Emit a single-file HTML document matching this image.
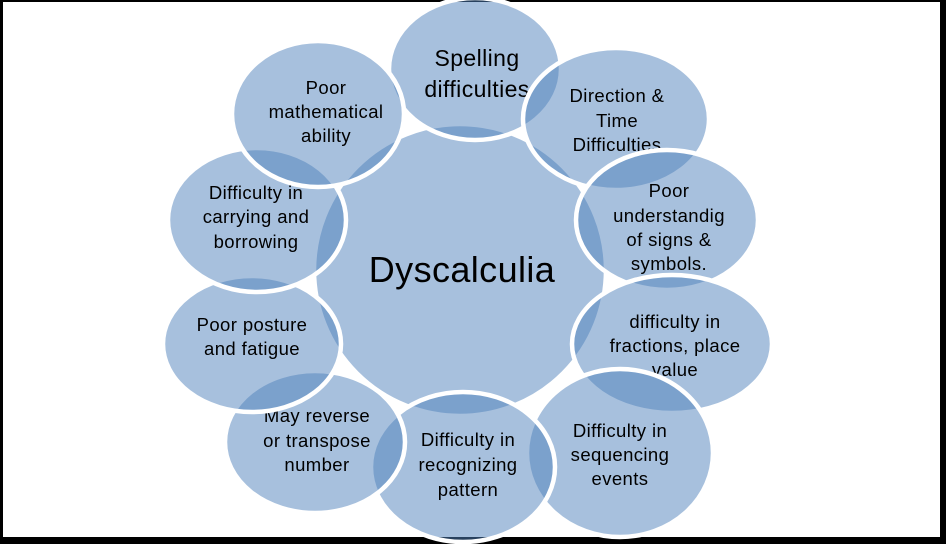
<!DOCTYPE html>
<html><head><meta charset="utf-8"><style>
html,body{margin:0;padding:0;background:#fff}
svg{display:block}
text{font-family:"Liberation Sans",sans-serif;fill:#000;fill-opacity:1;stroke:none;text-anchor:middle;letter-spacing:0.4px}
</style></head><body>
<svg width="946" height="544" viewBox="0 0 946 544" xmlns="http://www.w3.org/2000/svg">
<rect x="0" y="0" width="946" height="544" fill="#000"/>
<rect x="3" y="2" width="937" height="535" fill="#fff"/>
<g stroke="#fff" stroke-width="4.5" fill="rgb(79,129,188)" fill-opacity="0.5" font-size="18.5">
<circle cx="460" cy="270" r="146"/>
<text x="462" y="282" font-size="36">Dyscalculia</text>

<ellipse cx="475" cy="69" rx="86" ry="71"/>
<text x="477" y="66" font-size="23">Spelling</text>
<text x="477" y="97" font-size="23">difficulties</text>

<ellipse cx="616" cy="119" rx="93" ry="71"/>
<text x="617" y="102">Direction &amp;</text>
<text x="617" y="127">Time</text>
<text x="617" y="151">Difficulties</text>

<ellipse cx="667" cy="220" rx="91" ry="70"/>
<text x="669" y="197">Poor</text>
<text x="669" y="222">understandig</text>
<text x="669" y="246">of signs &amp;</text>
<text x="669" y="270">symbols.</text>

<ellipse cx="672" cy="344" rx="100" ry="69"/>
<text x="675" y="328">difficulty in</text>
<text x="675" y="352">fractions, place</text>
<text x="675" y="376">value</text>

<ellipse cx="620" cy="453" rx="93" ry="84"/>
<text x="620" y="437">Difficulty in</text>
<text x="620" y="461">sequencing</text>
<text x="620" y="485">events</text>

<ellipse cx="463" cy="467" rx="92" ry="75"/>
<text x="468" y="446">Difficulty in</text>
<text x="468" y="471">recognizing</text>
<text x="468" y="496">pattern</text>

<ellipse cx="315" cy="442" rx="90" ry="71"/>
<text x="317" y="422">May reverse</text>
<text x="317" y="447">or transpose</text>
<text x="317" y="471">number</text>

<ellipse cx="252" cy="344" rx="89" ry="68"/>
<text x="252" y="331">Poor posture</text>
<text x="252" y="355">and fatigue</text>

<ellipse cx="257" cy="220" rx="89" ry="72"/>
<text x="256" y="199">Difficulty in</text>
<text x="256" y="223">carrying and</text>
<text x="256" y="248">borrowing</text>

<ellipse cx="318" cy="114" rx="86" ry="73"/>
<text x="326" y="94">Poor</text>
<text x="326" y="118">mathematical</text>
<text x="326" y="142">ability</text>
</g>
</svg>
</body></html>
